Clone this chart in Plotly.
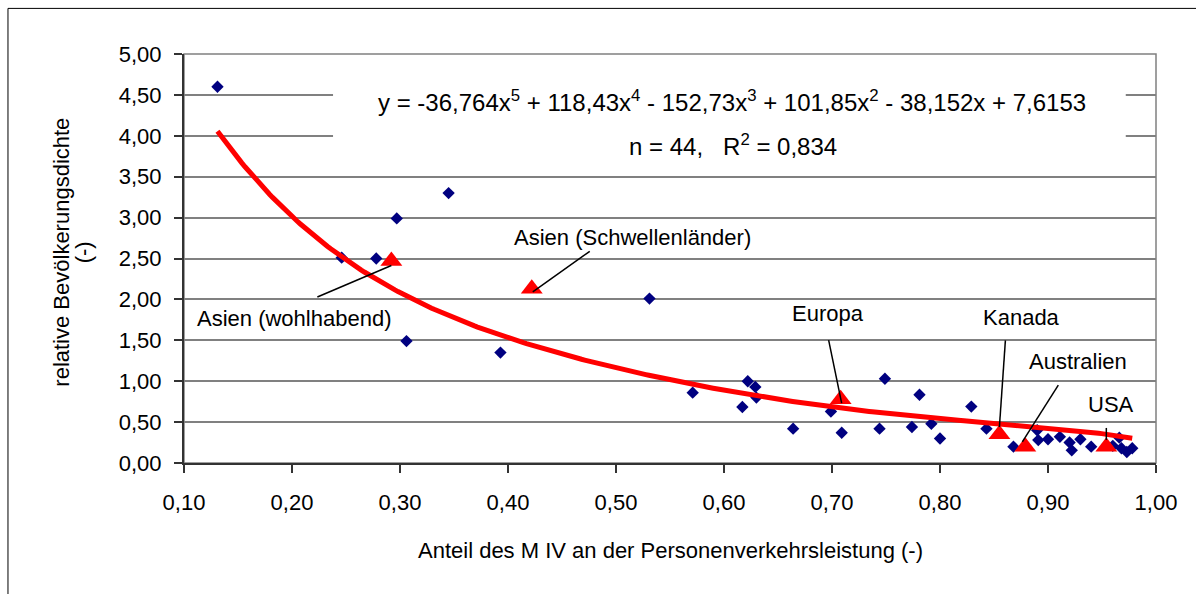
import numpy as np
import plotly.graph_objects as go

# ---------------- data ----------------
diamond_x = [0.131, 0.246, 0.278, 0.297, 0.306, 0.345, 0.393, 0.531, 0.571, 0.617,
             0.622, 0.629, 0.630, 0.664, 0.699, 0.709, 0.744, 0.749, 0.774, 0.781,
             0.792, 0.800, 0.829, 0.843, 0.868, 0.890, 0.891, 0.900, 0.911, 0.920,
             0.922, 0.930, 0.940, 0.960, 0.966, 0.968, 0.973, 0.978]
diamond_y = [4.60, 2.51, 2.50, 2.99, 1.49, 3.30, 1.35, 2.01, 0.86, 0.685,
             1.00, 0.93, 0.80, 0.42, 0.63, 0.37, 0.42, 1.03, 0.44, 0.835,
             0.48, 0.30, 0.69, 0.42, 0.20, 0.40, 0.28, 0.29, 0.32, 0.25,
             0.155, 0.29, 0.20, 0.21, 0.31, 0.18, 0.135, 0.18]

region_labels = ["Asien (wohlhabend)", "Asien (Schwellenländer)", "Europa",
                 "Kanada", "Australien", "USA"]
region_x = [0.292, 0.422, 0.708, 0.855, 0.879, 0.954]
region_y = [2.47, 2.13, 0.78, 0.35, 0.20, 0.20]

# polynomial trend line y = a5 x^5 + ... + a0 (as printed on the chart)
trend_coef = [-36.764, 118.43, -152.73, 101.85, -38.152, 7.6153]
equation_text = ("y = -36,764x<sup>5</sup> + 118,43x<sup>4</sup> - 152,73x<sup>3</sup> + "
                 "101,85x<sup>2</sup> - 38,152x + 7,6153")
stats_text = "n = 44,\u00a0\u00a0\u00a0R<sup>2</sup> = 0,834"

x_ticks = [0.1, 0.2, 0.3, 0.4, 0.5, 0.6, 0.7, 0.8, 0.9, 1.0]
y_ticks = [0.0, 0.5, 1.0, 1.5, 2.0, 2.5, 3.0, 3.5, 4.0, 4.5, 5.0]

x_title = "Anteil des M IV an der Personenverkehrsleistung (-)"
y_title_1 = "relative Bevölkerungsdichte"
y_title_2 = "(-)"

# label placement (pixel offsets from triangle centres, +x right, +y up)
label_offsets = [(-97, -57.5), (101, 51.5), (-13, 86), (22, 117), (53, 85), (5, 42)]
leader_start = [(-74, -36), (58, 37.5), (-12, 59), (6, 94), (33, 61.5), (0, 18.7)]
leader_end = [(0, -4.5), (1, -3), (1, -4), (0, 7.3), (-3, 4.8), (0, 6.7)]

FONT = "Liberation Sans, Arial, sans-serif"
TXT = 22

fig = go.Figure()

# data points
fig.add_trace(go.Scatter(
    x=diamond_x, y=diamond_y, mode="markers",
    marker=dict(symbol="diamond", size=9.5, color="#000080", line=dict(width=0)),
    showlegend=False, hoverinfo="x+y"))

# trend line
xs = np.linspace(min(diamond_x), max(diamond_x), 300)
fig.add_trace(go.Scatter(
    x=xs, y=np.polyval(trend_coef, xs), mode="lines",
    line=dict(color="#ff0000", width=5), showlegend=False, hoverinfo="skip"))

# regional averages
fig.add_trace(go.Scatter(
    x=region_x, y=region_y, mode="markers", text=region_labels,
    marker=dict(symbol="triangle-up", size=19, color="#ff0000", line=dict(width=0)),
    showlegend=False, hoverinfo="text+x+y"))

shapes = []
annotations = []

# outer chart frame
shapes.append(dict(type="rect", xref="paper", yref="paper",
                   x0=-0.1811, x1=1.06, y0=-0.35, y1=1.1115,
                   line=dict(color="#000000", width=1), layer="below"))
# plot-area border (grey)
shapes.append(dict(type="rect", xref="x domain", yref="y domain",
                   x0=0, x1=1, y0=0, y1=1,
                   line=dict(color="#808080", width=1.5), layer="below"))
# white box behind the equation
shapes.append(dict(type="rect", xref="x", yref="y",
                   x0=0.238, x1=0.972, y0=3.62, y1=4.96,
                   fillcolor="#ffffff", line=dict(width=0), layer="between"))

for lab, rx, ry, (ox, oy), (sx, sy), (ex, ey) in zip(
        region_labels, region_x, region_y, label_offsets, leader_start, leader_end):
    shapes.append(dict(type="line", xref="x", yref="y",
                       xsizemode="pixel", ysizemode="pixel",
                       xanchor=rx, yanchor=ry,
                       x0=sx, y0=sy, x1=ex, y1=ey,
                       line=dict(color="#000000", width=1.5), layer="above"))
    annotations.append(dict(x=rx, y=ry, xref="x", yref="y", text=lab,
                            showarrow=False, xshift=ox, yshift=oy,
                            xanchor="center", yanchor="middle",
                            font=dict(family=FONT, size=TXT, color="#000000")))

annotations.append(dict(x=0.1975, y=0.885, xref="paper", yref="paper",
                        xanchor="left", yanchor="middle", text=equation_text,
                        showarrow=False,
                        font=dict(family=FONT, size=24, color="#000000")))
annotations.append(dict(x=0.4555, y=0.7787, xref="paper", yref="paper",
                        xanchor="left", yanchor="middle", text=stats_text,
                        showarrow=False,
                        font=dict(family=FONT, size=24, color="#000000")))

# axis titles
annotations.append(dict(x=0.5, y=-0.214, xref="paper", yref="paper",
                        xanchor="center", yanchor="middle",
                        text=x_title, showarrow=False,
                        font=dict(family=FONT, size=TXT, color="#000000")))
annotations.append(dict(x=-0.1258, y=0.516, xref="paper", yref="paper",
                        xanchor="center", yanchor="middle",
                        text=y_title_1, showarrow=False, textangle=-90,
                        font=dict(family=FONT, size=TXT, color="#000000")))
annotations.append(dict(x=-0.1025, y=0.516, xref="paper", yref="paper",
                        xanchor="center", yanchor="middle",
                        text=y_title_2, showarrow=False, textangle=-90,
                        font=dict(family=FONT, size=TXT, color="#000000")))

fig.update_layout(
    width=1196, height=594,
    margin=dict(l=184, r=40, t=54, b=131),
    paper_bgcolor="#ffffff", plot_bgcolor="#ffffff",
    separators=",.",
    font=dict(family=FONT, size=TXT, color="#000000"),
    shapes=shapes, annotations=annotations,
    xaxis=dict(range=[0.1, 1.0], tickvals=x_ticks, tickformat=".2f",
               ticks="outside", ticklen=8, tickwidth=2, tickcolor="#333333",
               showline=True, linecolor="#333333", linewidth=2,
               showgrid=False, zeroline=False, ticklabelstandoff=11,
               tickfont=dict(family=FONT, size=TXT, color="#000000")),
    yaxis=dict(range=[0, 5], tickvals=y_ticks, tickformat=".2f",
               ticks="outside", ticklen=8, tickwidth=2, tickcolor="#333333",
               showline=True, linecolor="#333333", linewidth=2,
               showgrid=True, gridcolor="#808080", gridwidth=1.5,
               zeroline=False, ticklabelstandoff=8,
               tickfont=dict(family=FONT, size=TXT, color="#000000")),
)

fig.write_html("out.html")
